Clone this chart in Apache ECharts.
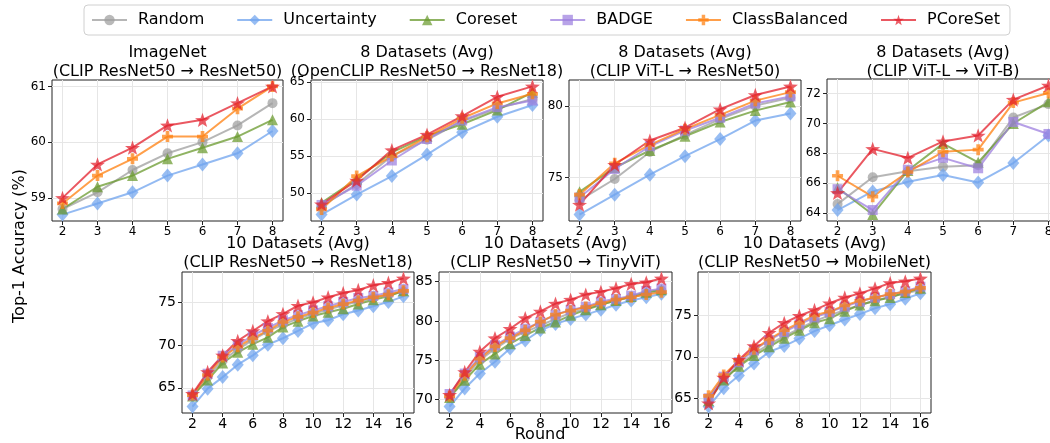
<!DOCTYPE html>
<html><head><meta charset="utf-8">
<script src="https://cdn.jsdelivr.net/npm/echarts@6/dist/echarts.min.js"></script>
<style>html,body{margin:0;padding:0;background:#fff;overflow:hidden;width:1050px;height:443px}#c{width:1062px;height:443px}</style>
</head><body><div id="c"></div>
<script>
// ---------- data ----------
const rounds8 = [2, 3, 4, 5, 6, 7, 8];
const rounds16 = [2, 3, 4, 5, 6, 7, 8, 9, 10, 11, 12, 13, 14, 15, 16];
const ticksX8 = [2, 3, 4, 5, 6, 7, 8];
const ticksX16 = [2, 4, 6, 8, 10, 12, 14, 16];

const methodNames = ['Random', 'Uncertainty', 'Coreset', 'BADGE', 'ClassBalanced', 'PCoreSet'];

// Panel 1: ImageNet (CLIP ResNet50 -> ResNet50)
const p1Random        = [58.8, 59.1, 59.5, 59.8, 60.0, 60.3, 60.7];
const p1Uncertainty   = [58.7, 58.9, 59.1, 59.4, 59.6, 59.8, 60.2];
const p1Coreset       = [58.8, 59.2, 59.4, 59.7, 59.9, 60.1, 60.4];
const p1BADGE         = null;
const p1ClassBalanced = [58.9, 59.4, 59.7, 60.1, 60.1, 60.6, 61.0];
const p1PCoreSet      = [59.0, 59.6, 59.9, 60.3, 60.4, 60.7, 61.0];
const p1TicksY = [59, 60, 61];

// Panel 2: 8 Datasets (OpenCLIP ResNet50 -> ResNet18)
const p2Random        = [48.2, 51.2, 55.0, 57.2, 59.7, 61.4, 62.7];
const p2Uncertainty   = [47.1, 49.8, 52.3, 55.2, 58.2, 60.3, 61.9];
const p2Coreset       = [48.7, 51.9, 55.5, 57.7, 59.3, 61.2, 63.6];
const p2BADGE         = [48.4, 51.0, 54.4, 57.3, 59.8, 61.6, 62.5];
const p2ClassBalanced = [47.8, 52.3, 55.0, 57.6, 60.1, 62.1, 63.4];
const p2PCoreSet      = [48.5, 51.7, 55.8, 57.9, 60.4, 63.0, 64.4];
const p2TicksY = [50, 55, 60, 65];

// Panel 3: 8 Datasets (CLIP ViT-L -> ResNet50)
const p3Random        = [73.4, 74.9, 76.8, 78.0, 79.1, 80.05, 80.6];
const p3Uncertainty   = [72.4, 73.8, 75.2, 76.5, 77.7, 79.0, 79.5];
const p3Coreset       = [74.0, 75.7, 76.9, 77.9, 78.9, 79.7, 80.3];
const p3BADGE         = [73.6, 75.6, 77.2, 78.3, 79.2, 80.2, 80.7];
const p3ClassBalanced = [73.8, 76.0, 77.3, 78.4, 79.4, 80.4, 81.0];
const p3PCoreSet      = [73.1, 75.9, 77.6, 78.5, 79.8, 80.8, 81.4];
const p3TicksY = [75, 80];

// Panel 4: 8 Datasets (CLIP ViT-L -> ViT-B)
const p4Random        = [64.6, 66.4, 66.8, 67.1, 67.2, 70.4, 71.3];
const p4Uncertainty   = [64.2, 65.45, 66.1, 66.55, 66.05, 67.35, 69.2];
const p4Coreset       = [65.7, 63.9, 66.85, 68.65, 67.4, 70.0, 71.45];
const p4BADGE         = [65.6, 64.2, 66.9, 67.7, 67.0, 70.1, 69.3];
const p4ClassBalanced = [66.5, 65.1, 66.75, 68.1, 68.25, 71.4, 72.05];
const p4PCoreSet      = [65.35, 68.3, 67.7, 68.8, 69.2, 71.6, 72.55];
const p4TicksY = [64, 66, 68, 70, 72];

// Panel 5: 10 Datasets (CLIP ResNet50 -> ResNet18)
const p5Random        = [64.0, 66.3, 68.2, 69.5, 70.6, 71.6, 72.4, 73.1, 73.65, 74.15, 74.65, 75.1, 75.5, 75.9, 76.25];
const p5Uncertainty   = [62.8, 64.9, 66.25, 67.7, 68.8, 70.05, 70.8, 71.65, 72.55, 72.9, 73.6, 74.05, 74.55, 75.05, 75.7];
const p5Coreset       = [64.05, 65.9, 67.9, 69.15, 70.1, 70.9, 72.1, 72.8, 73.4, 73.85, 74.25, 74.8, 75.3, 75.7, 76.35];
const p5BADGE         = [64.1, 66.65, 68.75, 70.0, 71.15, 72.0, 72.9, 73.5, 74.05, 74.55, 75.05, 75.5, 75.75, 76.15, 76.55];
const p5ClassBalanced = [64.15, 66.5, 68.6, 69.8, 70.8, 71.7, 72.7, 73.3, 73.8, 74.35, 74.8, 75.2, 75.6, 75.9, 76.35];
const p5PCoreSet      = [64.3, 66.85, 68.8, 70.5, 71.65, 72.8, 73.65, 74.6, 75.0, 75.6, 76.1, 76.45, 77.0, 77.3, 77.8];
const p5TicksY = [65, 70, 75];

// Panel 6: 10 Datasets (CLIP ResNet50 -> TinyViT)
const p6Random        = [70.3, 72.75, 75.0, 76.45, 77.7, 78.6, 79.4, 80.25, 81.0, 81.55, 82.1, 82.6, 83.0, 83.45, 83.85];
const p6Uncertainty   = [69.1, 71.4, 73.3, 74.8, 76.5, 77.5, 78.8, 79.6, 80.25, 80.8, 81.4, 82.05, 82.6, 83.0, 83.45];
const p6Coreset       = [70.25, 72.45, 74.5, 75.8, 77.1, 78.15, 79.1, 79.85, 80.7, 81.4, 82.05, 82.6, 83.1, 83.65, 83.95];
const p6BADGE         = [70.7, 73.3, 75.4, 76.9, 78.0, 79.0, 79.85, 80.8, 81.4, 81.8, 82.45, 82.8, 83.2, 83.8, 84.1];
const p6ClassBalanced = [70.4, 73.1, 75.2, 76.75, 77.8, 78.8, 79.9, 80.8, 81.3, 81.75, 82.25, 82.7, 83.0, 83.35, 83.65];
const p6PCoreSet      = [70.6, 73.5, 76.1, 77.8, 79.0, 80.35, 81.2, 82.2, 82.7, 83.35, 83.7, 84.15, 84.7, 84.9, 85.4];
const p6TicksY = [70, 75, 80, 85];

// Panel 7: 10 Datasets (CLIP ResNet50 -> MobileNet)
const p7Random        = [64.9, 67.25, 68.95, 70.4, 71.5, 72.5, 73.4, 74.3, 75.0, 75.65, 76.25, 76.75, 77.25, 77.65, 78.05];
const p7Uncertainty   = [64.0, 66.2, 67.75, 69.2, 70.6, 71.3, 72.2, 73.1, 73.8, 74.5, 75.15, 75.85, 76.35, 77.0, 77.65];
const p7Coreset       = [64.7, 67.2, 68.85, 70.15, 71.2, 72.25, 73.2, 74.1, 74.6, 75.5, 76.25, 76.75, 77.15, 77.75, 78.25];
const p7BADGE         = [65.0, 67.6, 69.35, 70.8, 72.0, 73.0, 73.9, 74.75, 75.4, 76.05, 76.65, 77.15, 77.55, 77.9, 78.45];
const p7ClassBalanced = [65.3, 67.8, 69.55, 70.9, 72.1, 73.2, 74.1, 75.0, 75.45, 76.2, 76.75, 77.15, 77.55, 77.85, 78.3];
const p7PCoreSet      = [64.4, 67.5, 69.65, 71.3, 72.9, 74.1, 74.95, 75.65, 76.45, 77.15, 77.65, 78.25, 78.9, 79.1, 79.45];
const p7TicksY = [65, 70, 75];

const titleLine1 = ['ImageNet', '8 Datasets (Avg)', '8 Datasets (Avg)', '8 Datasets (Avg)', '10 Datasets (Avg)', '10 Datasets (Avg)', '10 Datasets (Avg)'];
const titleLine2 = ['(CLIP ResNet50 \u2192 ResNet50)', '(OpenCLIP ResNet50 \u2192 ResNet18)', '(CLIP ViT-L \u2192 ResNet50)', '(CLIP ViT-L \u2192 ViT-B)', '(CLIP ResNet50 \u2192 ResNet18)', '(CLIP ResNet50 \u2192 TinyViT)', '(CLIP ResNet50 \u2192 MobileNet)'];

// ---------- layout & style ----------
const FONT = 'DejaVu Sans';
const panels = [
  {x: rounds8,  tx: ticksX8,  ty: p1TicksY, s: [p1Random, p1Uncertainty, p1Coreset, p1BADGE, p1ClassBalanced, p1PCoreSet], g: {left: 52, top: 80, width: 231, height: 141}, cx: 167.5, fs: 12},
  {x: rounds8,  tx: ticksX8,  ty: p2TicksY, s: [p2Random, p2Uncertainty, p2Coreset, p2BADGE, p2ClassBalanced, p2PCoreSet], g: {left: 311, top: 80, width: 232, height: 141}, cx: 427, fs: 12},
  {x: rounds8,  tx: ticksX8,  ty: p3TicksY, s: [p3Random, p3Uncertainty, p3Coreset, p3BADGE, p3ClassBalanced, p3PCoreSet], g: {left: 569, top: 80, width: 232, height: 141}, cx: 685, fs: 12},
  {x: rounds8,  tx: ticksX8,  ty: p4TicksY, s: [p4Random, p4Uncertainty, p4Coreset, p4BADGE, p4ClassBalanced, p4PCoreSet], g: {left: 827, top: 79, width: 232, height: 142}, cx: 943, fs: 12},
  {x: rounds16, tx: ticksX16, ty: p5TicksY, s: [p5Random, p5Uncertainty, p5Coreset, p5BADGE, p5ClassBalanced, p5PCoreSet], g: {left: 182, top: 272, width: 232, height: 141}, cx: 298, fs: 14},
  {x: rounds16, tx: ticksX16, ty: p6TicksY, s: [p6Random, p6Uncertainty, p6Coreset, p6BADGE, p6ClassBalanced, p6PCoreSet], g: {left: 439, top: 272, width: 233, height: 141}, cx: 555.5, fs: 14},
  {x: rounds16, tx: ticksX16, ty: p7TicksY, s: [p7Random, p7Uncertainty, p7Coreset, p7BADGE, p7ClassBalanced, p7PCoreSet], g: {left: 698, top: 272, width: 233, height: 141}, cx: 814.5, fs: 14}
];

const STAR = 'path://M0,-10L2.35,-3.24L9.51,-3.09L3.8,1.24L5.88,8.09L0,4.2L-5.88,8.09L-3.8,1.24L-9.51,-3.09L-2.35,-3.24Z';
const PLUS = 'path://M-1,-3H1V-1H3V1H1V3H-1V1H-3V-1H-1Z';
const styles = [
  {color: '#9e9e9e', symbol: 'circle', size: 10},
  {color: '#6fa3ee', symbol: 'diamond', size: [12, 14]},
  {color: '#6a9a2e', symbol: 'triangle', size: 11},
  {color: '#9d7fdf', symbol: 'rect', size: 10},
  {color: '#ff7f0e', symbol: PLUS, size: 11},
  {color: '#e3202c', symbol: STAR, size: 15}
];

const pad = v => 0.05 * (v.max - v.min);
const grid = [], xAxis = [], yAxis = [], series = [], graphic = [];

panels.forEach((p, i) => {
  grid.push(Object.assign({show: true, borderColor: '#222', borderWidth: 1, backgroundColor: 'transparent'}, p.g));
  const lab = {fontFamily: FONT, fontSize: p.fs, color: '#000'};
  xAxis.push({
    type: 'value', gridIndex: i,
    min: v => v.min - pad(v), max: v => v.max + pad(v),
    axisLine: {show: false},
    axisTick: {show: true, length: 4, inside: false, lineStyle: {color: '#222'}, customValues: p.tx},
    axisLabel: Object.assign({margin: i < 4 ? 5 : 4, customValues: p.tx}, lab),
    splitLine: {show: true, lineStyle: {color: '#e6e6e6', width: 1}, customValues: p.tx}
  });
  yAxis.push({
    type: 'value', gridIndex: i,
    min: v => v.min - pad(v), max: v => v.max + pad(v),
    axisLine: {show: false},
    axisTick: {show: true, length: 4, inside: false, lineStyle: {color: '#222'}, customValues: p.ty},
    axisLabel: Object.assign({margin: 6, customValues: p.ty}, lab),
    splitLine: {show: true, lineStyle: {color: '#e6e6e6', width: 1}, customValues: p.ty}
  });
  p.s.forEach((vals, m) => {
    if (!vals) return;
    const st = styles[m];
    series.push({
      type: 'line', name: methodNames[m], xAxisIndex: i, yAxisIndex: i,
      data: p.x.map((r, k) => [r, vals[k]]),
      symbol: st.symbol, symbolSize: st.size, symbolKeepAspect: true, showAllSymbol: true,
      lineStyle: {color: st.color, width: 2, opacity: 0.75},
      itemStyle: {color: st.color, opacity: 0.72},
      emphasis: {disabled: true},
      animation: false, silent: true
    });
  });
  const y1 = i < 4 ? 53 : 244, y2 = i < 4 ? 72 : 263;
  graphic.push({type: 'text', x: p.cx, y: y1, style: {text: titleLine1[i], font: '16px "DejaVu Sans"', fill: '#000', textAlign: 'center', textVerticalAlign: 'middle'}});
  graphic.push({type: 'text', x: p.cx, y: y2, style: {text: titleLine2[i], font: '16px "DejaVu Sans"', fill: '#000', textAlign: 'center', textVerticalAlign: 'middle'}});
});

graphic.push({type: 'text', x: 20, y: 246, rotation: Math.PI / 2, style: {text: 'Top-1 Accuracy (%)', font: '16px "DejaVu Sans"', fill: '#000', textAlign: 'center', textVerticalAlign: 'middle'}});
graphic.push({type: 'text', x: 540, y: 435, style: {text: 'Round', font: '16px "DejaVu Sans"', fill: '#000', textAlign: 'center', textVerticalAlign: 'middle'}});

const chart = echarts.init(document.getElementById('c'), null, {renderer: 'canvas'});
chart.setOption({
  animation: false,
  backgroundColor: '#fff',
  legend: {
    data: methodNames, left: 84, top: 5,
    padding: [7, 10, 7, 7], itemGap: 32, itemWidth: 35, itemHeight: 13,
    borderColor: '#d0d0d0', borderWidth: 1, borderRadius: 4,
    textStyle: {fontFamily: FONT, fontSize: 16, color: '#000', padding: [0, 0, 0, 6]},
    selectedMode: false
  },
  grid, xAxis, yAxis, series, graphic
});
</script></body></html>
